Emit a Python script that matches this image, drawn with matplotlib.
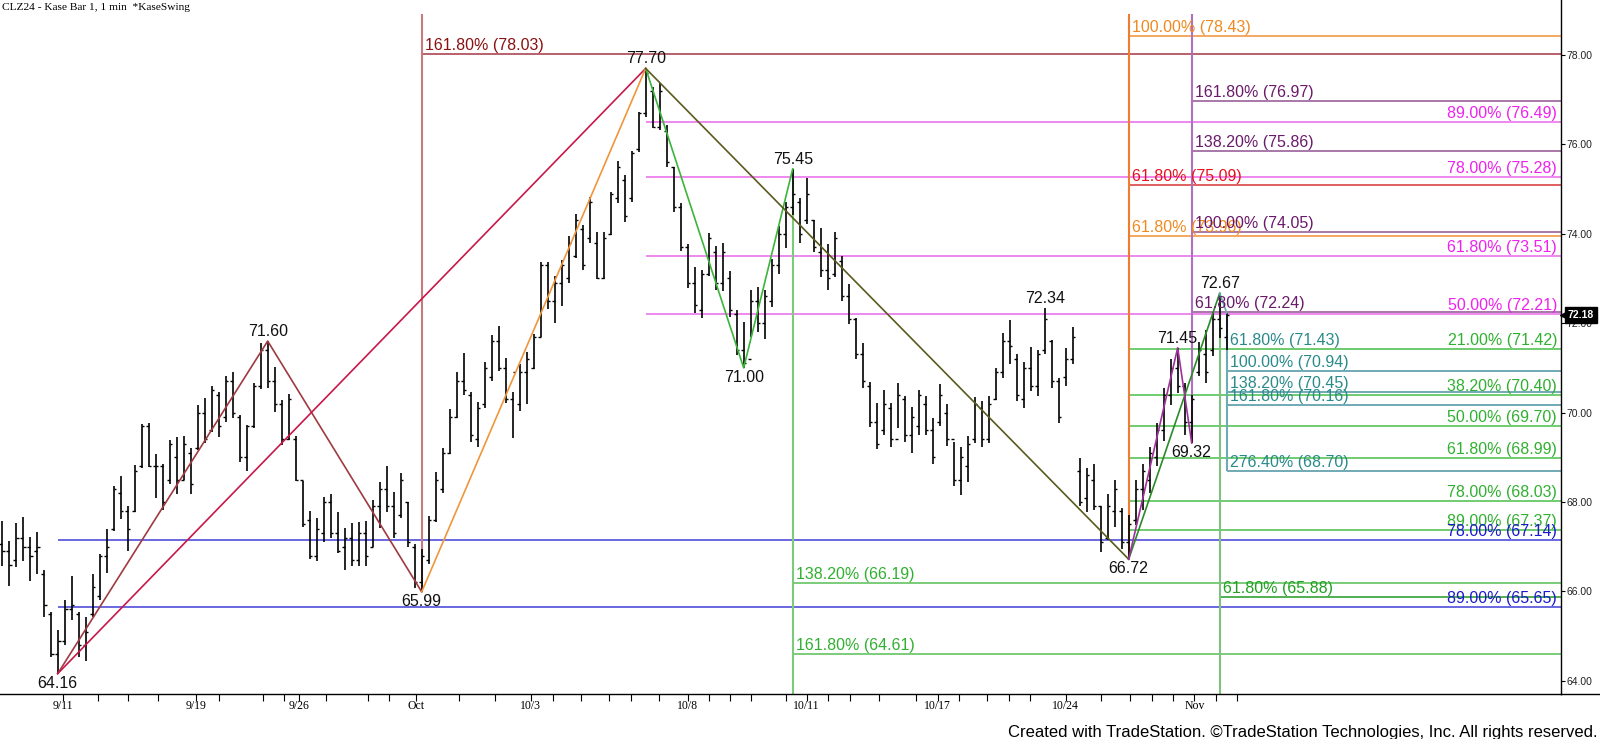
import matplotlib
matplotlib.use('Agg')
import matplotlib.pyplot as plt
import matplotlib.transforms as mtrans
from matplotlib.lines import Line2D
import numpy as np

plt.rcParams['font.family'] = ['Liberation Sans', 'DejaVu Sans']

# ---- bar data (Kase bars, one per index) ----
highs = [67.57, 67.13, 67.52, 67.66, 67.21, 67.33, 66.48, 65.53, 65.14, 65.81,
         66.34, 65.53, 65.43, 66.39, 66.84, 67.39, 68.35, 68.58, 67.91, 68.82,
         69.74, 69.76, 69.07, 68.85, 69.39, 69.46, 69.48, 69.20, 70.17, 70.32,
         70.60, 70.47, 70.81, 70.90, 69.95, 69.72, 70.67, 71.55, 71.60, 71.03,
         70.28, 70.42, 69.48, 68.47, 67.80, 67.64, 68.12, 68.19, 67.78, 67.41,
         67.52, 67.56, 67.57, 68.04, 68.44, 68.81, 68.23, 68.64, 68.01, 67.07,
         66.94, 67.68, 68.66, 69.20, 70.07, 70.90, 71.33, 70.45, 70.24, 71.14,
         71.74, 71.94, 71.23, 70.45, 71.08, 71.36, 71.76, 73.36, 73.38, 73.06,
         73.41, 73.94, 74.44, 74.20, 74.83, 74.04, 74.04, 74.94, 75.63, 75.32,
         75.86, 76.73, 77.70, 77.29, 77.37, 76.43, 75.50, 74.68, 73.78, 73.26,
         73.20, 74.01, 73.73, 73.80, 73.17, 72.30, 72.03, 72.74, 72.82, 72.74,
         73.43, 74.18, 74.72, 75.45, 74.79, 75.24, 74.31, 74.12, 73.78, 74.05,
         73.50, 72.88, 72.11, 71.55, 70.68, 70.21, 70.51, 70.21, 70.66, 70.36,
         70.13, 70.51, 70.37, 69.87, 70.64, 70.19, 69.35, 69.24, 69.48, 70.34,
         70.26, 70.37, 70.99, 71.77, 72.07, 71.31, 71.14, 71.46, 71.39, 72.34,
         71.62, 70.77, 71.45, 71.91, 68.98, 68.77, 68.85, 67.91, 68.18, 68.49,
         67.86, 67.71, 68.49, 68.86, 69.22, 69.76, 70.55, 71.20, 71.45, 70.66,
         70.39, 71.59, 71.85, 72.26, 72.67, 72.23]
lows = [66.56, 66.11, 66.54, 66.68, 66.23, 66.38, 65.43, 64.53, 64.16, 64.80,
        65.36, 64.54, 64.44, 65.43, 65.81, 66.41, 67.35, 67.62, 66.91, 67.78,
        68.75, 68.79, 68.08, 67.82, 68.40, 68.19, 68.49, 68.18, 69.16, 69.33,
        69.56, 69.46, 69.80, 69.87, 68.90, 68.70, 69.65, 70.53, 70.55, 70.02,
        69.28, 69.39, 68.46, 67.45, 66.72, 66.67, 67.11, 67.19, 66.87, 66.47,
        66.56, 66.56, 66.57, 67.00, 67.41, 67.78, 67.19, 67.64, 67.00, 66.07,
        65.99, 66.61, 67.56, 68.21, 69.07, 69.89, 70.39, 69.35, 69.24, 70.10,
        70.71, 70.92, 70.21, 69.43, 70.04, 70.19, 70.97, 71.68, 72.31, 72.01,
        72.38, 72.91, 73.45, 73.18, 73.80, 72.98, 72.98, 73.97, 74.68, 74.27,
        74.72, 75.84, 76.62, 76.36, 76.32, 75.49, 74.49, 73.62, 72.78, 72.22,
        72.11, 73.06, 72.74, 72.71, 72.13, 71.29, 71.00, 71.70, 71.81, 71.64,
        72.37, 73.09, 73.68, 74.42, 73.80, 74.23, 73.59, 73.04, 72.74, 73.04,
        72.50, 71.98, 71.21, 70.56, 69.67, 69.18, 69.50, 69.22, 69.65, 69.34,
        69.09, 69.50, 69.50, 68.86, 69.69, 69.25, 68.36, 68.16, 68.44, 69.31,
        69.24, 69.31, 70.28, 70.77, 71.08, 70.25, 70.10, 70.49, 70.36, 71.30,
        70.54, 69.76, 70.60, 71.08, 67.91, 67.78, 67.82, 66.89, 67.15, 67.45,
        66.94, 66.72, 67.49, 67.82, 68.21, 68.80, 69.36, 70.17, 70.43, 69.50,
        69.32, 70.82, 70.66, 71.27, 71.66, 71.40]
opens = [67.06, 66.90, 66.70, 67.20, 67.00, 66.90, 66.40, 65.50, 64.60, 64.90,
         65.60, 65.50, 64.80, 65.50, 65.90, 66.80, 67.40, 68.20, 67.80, 67.80,
         68.80, 69.70, 68.80, 68.80, 68.50, 69.00, 68.50, 69.10, 69.20, 70.00,
         69.60, 70.40, 69.90, 70.70, 69.90, 69.00, 69.70, 70.60, 71.40, 70.70,
         70.20, 69.40, 69.40, 68.50, 67.60, 66.80, 67.30, 68.00, 67.30, 67.00,
         67.20, 66.70, 67.30, 67.00, 67.90, 68.30, 67.90, 67.70, 68.00, 67.00,
         66.20, 66.70, 67.60, 68.30, 69.10, 69.90, 70.70, 70.40, 69.40, 70.20,
         70.80, 71.60, 71.00, 70.30, 70.20, 70.90, 71.00, 71.70, 73.30, 72.50,
         72.90, 73.00, 73.50, 74.10, 73.90, 73.80, 73.00, 74.00, 74.80, 75.20,
         74.80, 75.90, 76.70, 77.20, 76.40, 76.30, 75.50, 74.60, 73.70, 72.90,
         72.30, 73.10, 73.60, 72.90, 73.00, 72.20, 71.40, 71.20, 72.50, 72.00,
         72.50, 73.30, 74.00, 74.60, 74.70, 74.30, 74.30, 73.60, 73.20, 73.10,
         73.40, 72.60, 72.10, 71.30, 70.60, 69.80, 69.60, 70.10, 69.40, 70.30,
         69.50, 69.70, 70.20, 69.60, 69.80, 70.00, 69.40, 68.50, 68.80, 69.40,
         70.10, 69.40, 70.30, 70.90, 71.60, 71.20, 70.30, 71.00, 70.60, 71.40,
         71.60, 70.70, 70.80, 71.20, 68.70, 68.10, 68.50, 67.90, 67.20, 67.80,
         67.80, 67.10, 67.60, 68.30, 68.50, 69.00, 69.60, 70.40, 71.00, 70.60,
         69.80, 70.90, 71.30, 71.40, 72.10, 71.70]
closes = [66.90, 66.60, 67.20, 67.00, 66.80, 67.00, 65.70, 64.60, 64.90, 65.60,
          65.70, 64.80, 65.10, 66.10, 66.80, 67.00, 68.30, 67.80, 67.40, 68.70,
          69.70, 68.80, 68.80, 68.00, 69.30, 68.50, 69.30, 68.40, 70.00, 69.40,
          70.50, 69.70, 70.70, 70.00, 69.00, 69.70, 70.60, 71.40, 70.70, 70.20,
          69.40, 70.30, 68.50, 67.50, 66.80, 67.40, 68.00, 67.30, 66.90, 67.20,
          66.70, 67.30, 66.80, 67.90, 68.30, 67.90, 67.30, 68.50, 67.10, 66.20,
          66.80, 67.60, 68.50, 69.10, 69.90, 70.70, 70.50, 69.50, 70.10, 71.00,
          71.60, 71.00, 70.30, 70.90, 70.90, 71.20, 71.70, 73.30, 72.50, 72.90,
          73.30, 73.80, 74.30, 73.30, 74.70, 73.00, 73.90, 74.90, 75.50, 74.40,
          75.80, 76.70, 77.60, 76.40, 77.20, 75.60, 74.60, 73.70, 72.90, 72.40,
          73.10, 73.90, 72.90, 73.60, 72.30, 71.40, 71.10, 72.50, 72.00, 72.60,
          73.30, 74.00, 74.60, 74.90, 74.00, 74.90, 73.70, 73.20, 73.00, 73.90,
          72.60, 72.10, 71.30, 70.70, 69.80, 69.30, 70.20, 69.40, 70.40, 69.50,
          69.90, 70.40, 69.60, 69.00, 70.40, 69.40, 68.50, 69.00, 69.30, 70.20,
          69.40, 70.20, 70.90, 71.60, 71.50, 70.40, 71.00, 70.60, 71.30, 72.10,
          70.70, 69.90, 71.20, 71.70, 68.00, 68.60, 67.90, 67.10, 67.90, 68.30,
          67.10, 67.50, 68.30, 68.70, 69.10, 69.60, 70.40, 71.00, 70.60, 69.80,
          70.30, 71.40, 70.90, 72.10, 71.90, 72.18]

# ---- swing points ----
swing_idx = [8, 38, 60, 92, 106, 113, 149, 161, 168, 170, 174]
swing_px = [64.16, 71.60, 65.99, 77.70, 71.00, 75.45, 72.34, 66.72, 71.45, 69.32, 72.67]
swing_hi = [False, True, False, True, False, True, True, False, True, False, True]

# zigzag swing lines (index list, price list, colour)
zigzags = [
    ([8, 38, 60], [64.16, 71.60, 65.99], '#9e3a40'),
    ([8, 92], [64.16, 77.70], '#c8184a'),
    ([60, 92], [65.99, 77.70], '#f0963a'),
    ([92, 106, 113], [77.70, 71.00, 75.45], '#3cb43c'),
    ([92, 161], [77.70, 66.72], '#5a5a1e'),
    ([161, 174], [66.72, 72.67], '#2a8a2a'),
    ([161, 168, 170], [66.72, 71.45, 69.32], '#a0309a'),
    ([174, 175], [72.67, 72.23], '#70aab4'),
]

# ---- fibonacci levels ----
dkred_pct, dkred_val = [161.80], [78.03]
orange_pct, orange_val = [100.00, 61.80], [78.43, 73.96]
red_pct, red_val = [61.80], [75.09]
purple_pct, purple_val = [161.80, 138.20, 100.00, 61.80], [76.97, 75.86, 74.05, 72.24]
teal_pct, teal_val = [61.80, 100.00, 138.20, 161.80, 276.40], [71.43, 70.94, 70.45, 70.16, 68.70]
green2_pct, green2_val = [61.80], [65.88]
ltgreen_pct, ltgreen_val = [138.20, 161.80], [66.19, 64.61]
magenta_pct, magenta_val = [89.00, 78.00, 61.80, 50.00], [76.49, 75.28, 73.51, 72.21]
green_pct, green_val = [21.00, 38.20, 50.00, 61.80, 78.00, 89.00], [71.42, 70.40, 69.70, 68.99, 68.03, 67.37]
blue_pct, blue_val = [78.00, 89.00], [67.14, 65.65]

# axis ticks (bar-index positions of the date marks)
xmaj = [8.7, 27.8, 42.5, 59.2, 75.6, 98.0, 115.0, 133.7, 152.0, 170.4]
xlab = ['9/11', '9/19', '9/26', 'Oct', '10/3', '10/8', '10/11', '10/17', '10/24', 'Nov']
xmin = [13.7, 18.1, 22.4, 31.0, 37.3, 40.4, 46.4, 52.3, 55.3, 65.4, 70.5, 78.7, 82.7,
        86.8, 89.9, 93.9, 101.0, 104.0, 107.0, 112.0, 118.1, 121.2, 125.4, 130.6,
        136.8, 140.8, 143.9, 146.9, 157.1, 161.2, 164.3, 167.3, 173.5, 176.5]
yticks = [64, 66, 68, 70, 72, 74, 76, 78]
last_px = 72.18

BOT_PX = 694.0
Y_HI = 79.230
Y_LO = 78 - (BOT_PX - 55) / 44.7
X_LO, X_HI = -0.243, 222.76
TOP = 78.92

fig = plt.figure(figsize=(16, 7.39), dpi=100)
ax = fig.add_axes([0, (739 - BOT_PX) / 739., 1561 / 1600., BOT_PX / 739.])
ax.set_xlim(X_LO, X_HI)
ax.set_ylim(Y_LO, Y_HI)

idx = np.arange(len(highs))

# fib lines + labels
fs = 11.5
def fib(start, pcts, vals, lc, tc, side):
    ax.hlines(vals, start, X_HI, colors=lc, lw=1.4, zorder=2)
    for p, v in zip(pcts, vals):
        txt = '%.2f%% (%.2f)' % (p, v)
        if side == 'left':
            ax.annotate(txt, (start, v), xytext=(3, 1), textcoords='offset pixels',
                        ha='left', va='bottom', color=tc, fontsize=fs, zorder=6)
        else:
            ax.annotate(txt, (X_HI, v), xytext=(-4, 1), textcoords='offset pixels',
                        ha='right', va='bottom', color=tc, fontsize=fs, zorder=6)

fib(60, dkred_pct, dkred_val, '#b8606a', '#8b1010', 'left')
fib(161, orange_pct, orange_val, '#f4a860', '#f08a20', 'left')
fib(161, red_pct, red_val, '#e06060', '#e81020', 'left')
fib(170, purple_pct, purple_val, '#a878a8', '#6a1a6a', 'left')
fib(175, teal_pct, teal_val, '#70aab4', '#2a8a8a', 'left')
fib(174, green2_pct, green2_val, '#50b050', '#20a020', 'left')
fib(113, ltgreen_pct, ltgreen_val, '#7acc7a', '#30b030', 'left')
fib(92, magenta_pct, magenta_val, '#ee88ee', '#ee22ee', 'right')
fib(161, green_pct, green_val, '#70cc70', '#30b030', 'right')
fib(8, blue_pct, blue_val, '#6868e0', '#1a1ad0', 'right')

# vertical anchor lines
ax.vlines(60, 65.99, TOP, colors='#c47a80', lw=1.5, zorder=2)
ax.vlines(113, Y_LO, 75.45, colors='#7acc7a', lw=1.5, zorder=2)
ax.vlines(161, 66.72, TOP, colors='#ee7d32', lw=1.5, zorder=2)
ax.vlines(170, 69.32, TOP, colors='#b070c0', lw=1.5, zorder=2)
ax.vlines(174, Y_LO, 72.67, colors='#80c080', lw=1.5, zorder=2)
ax.vlines(175, 68.70, 72.23, colors='#70aab4', lw=1.5, zorder=2)

# zigzags
for xs, ys, c in zigzags:
    ax.plot(xs, ys, color=c, lw=1.2, zorder=4)

# OHLC bars
ax.vlines(idx, lows, highs, colors='black', lw=1.2, zorder=3)
ax.hlines(opens, idx - 0.4, idx, colors='black', lw=1.0, zorder=3)
ax.hlines(closes, idx, idx + 0.4, colors='black', lw=1.0, zorder=3)

# swing labels
for i, p, hi in zip(swing_idx, swing_px, swing_hi):
    ax.annotate('%.2f' % p, (i, p), xytext=(0, 2 if hi else -2), textcoords='offset pixels',
                ha='center', va='bottom' if hi else 'top', fontsize=fs, color='#111111', zorder=7)

# axes styling
for s in ['top', 'left']:
    ax.spines[s].set_visible(False)
ax.spines['right'].set_linewidth(1.0)
ax.spines['bottom'].set_linewidth(1.0)
ax.yaxis.tick_right()
ax.set_yticks(yticks)
ax.set_yticklabels(['%.2f' % v for v in yticks])
ax.tick_params(axis='y', direction='out', length=3, width=0.8, pad=1, labelsize=7.5, labelcolor='#222222')
ax.set_xticks(xmaj)
ax.set_xticklabels(xlab, family='Liberation Serif')
ax.set_xticks(xmin, minor=True)
ax.tick_params(axis='x', which='both', direction='out', length=5, width=0.8, pad=-0.5, labelsize=8.5)

# last price marker
bt = mtrans.blended_transform_factory(ax.transAxes, ax.transData)
ax.plot([1.0 + 3 / 1561.], [last_px], marker='<', ms=6, color='black', transform=bt, clip_on=False, zorder=10)
ax.annotate('%.2f' % last_px, xy=(1.0, last_px), xycoords=bt, xytext=(7, 0), textcoords='offset pixels',
            ha='left', va='center', fontsize=7.5, color='white', fontweight='bold',
            bbox=dict(boxstyle='square,pad=0.3', fc='black', ec='black'), zorder=10, annotation_clip=False)

# bottom axis continues to the right edge
fig.add_artist(Line2D([1561 / 1600., 1.0], [(739 - BOT_PX) / 739.] * 2, color='black', lw=1.0))

fig.text(2 / 1600., 1 - 8 / 739., 'CLZ24 - Kase Bar 1, 1 min  *KaseSwing', family='Liberation Serif',
         fontsize=8.2, va='center', ha='left')
fig.text(1 - 3 / 1600., 1 - 732 / 739., 'Created with TradeStation. \u00a9TradeStation Technologies, Inc. All rights reserved.',
         fontsize=12, va='center', ha='right')

fig.savefig('out.png', dpi=100)
